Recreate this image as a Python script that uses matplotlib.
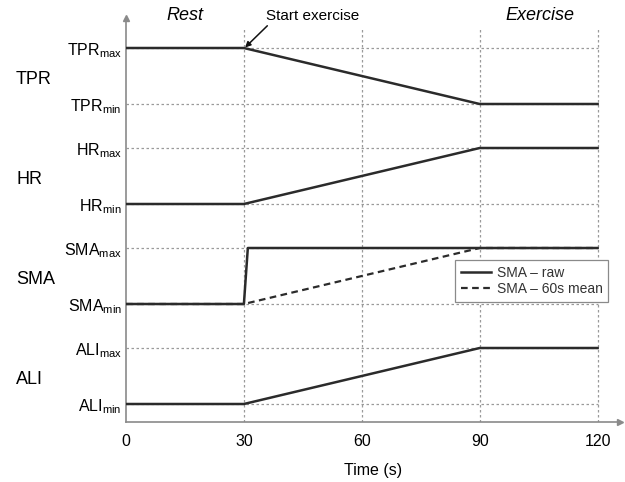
import numpy as np
import matplotlib.pyplot as plt

plt.rcParams['font.family'] = ['Liberation Sans', 'DejaVu Sans']
plt.rcParams['mathtext.fontset'] = 'custom'
plt.rcParams['mathtext.rm'] = 'Liberation Sans'

# levels of each variable (arbitrary units, one band per variable)
variables = ['TPR', 'HR', 'SMA', 'ALI']
level_min = [318, 218, 118, 18]
level_max = [374, 274, 174, 74]

# time courses (s)
t_tpr = [0, 30, 90, 120]
tpr = [374, 374, 318, 318]
t_hr = [0, 30, 90, 120]
hr = [218, 218, 274, 274]
t_sma_raw = [0, 30, 31, 120]
sma_raw = [118, 118, 174, 174]
t_sma_mean = [0, 30, 90, 120]
sma_mean = [118, 118, 174, 174]
t_ali = [0, 30, 90, 120]
ali = [18, 18, 74, 74]

xticks = [0, 30, 60, 90, 120]

fig = plt.figure(figsize=(6.25, 4.82), dpi=100)
ax = fig.add_axes([126/625, 60/482, 494/625, 404/482])
ax.set_xlim(0, 125.7)
ax.set_ylim(0, 404)

grid_c = '#9a9a9a'
# dotted grid
ax.hlines(level_min + level_max, 0, 120, colors=grid_c, linestyles=(0, (2, 2)), lw=0.9, zorder=1)
ax.vlines([30, 60, 90, 120], 0, 394, colors=grid_c, linestyles=(0, (2, 2)), lw=0.9, zorder=1)

line_c = '#2b2b2b'
ax.plot(t_tpr, tpr, color=line_c, lw=1.8, zorder=3)
ax.plot(t_hr, hr, color=line_c, lw=1.8, zorder=3)
ax.plot(t_sma_raw, sma_raw, color=line_c, lw=1.8, zorder=3, label='SMA – raw')
ax.plot(t_sma_mean, sma_mean, color=line_c, lw=1.6, ls=(0, (3, 2)), zorder=4, label='SMA – 60s mean')
ax.plot(t_ali, ali, color=line_c, lw=1.8, zorder=3)

# spines with arrow heads
for s in ['top', 'right']:
    ax.spines[s].set_visible(False)
for s in ['left', 'bottom']:
    ax.spines[s].set_color('#8a8a8a')
    ax.spines[s].set_linewidth(1.2)
ax.plot(1, 0, '>', color='#8a8a8a', ms=5, transform=ax.transAxes, clip_on=False)
ax.plot(0, 1, '^', color='#8a8a8a', ms=5, transform=ax.transAxes, clip_on=False)

# ticks
ax.set_xticks(xticks)
ax.set_xticklabels([str(x) for x in xticks], fontsize=11.5)
yt, yl = [], []
for v, lo, hi in zip(variables, level_min, level_max):
    yt += [hi, lo]
    yl += [v + r'$_{\mathrm{max}}$', v + r'$_{\mathrm{min}}$']
ax.set_yticks(yt)
ax.set_yticklabels(yl, fontsize=11.5)
ax.tick_params(length=0, pad=3)
ax.tick_params(axis='x', pad=9)
ax.set_xlabel('Time (s)', fontsize=11.5, labelpad=10)

# group labels
for v, lo, hi in zip(variables, level_min, level_max):
    fig.text(16/625, 1 - (422 - (lo + hi) / 2 + 4) / 482, v, fontsize=13,
             ha='left', va='center')

# phase labels
fig.text(185/625, 1 - 16/482, 'Rest', fontsize=13, style='italic', ha='center', va='center')
fig.text(540/625, 1 - 16/482, 'Exercise', fontsize=13, style='italic', ha='center', va='center')
ax.annotate('Start exercise', xy=(30.3, 374.5), xytext=(35.5, 406),
            fontsize=11, ha='left', va='center', annotation_clip=False,
            arrowprops=dict(arrowstyle='-|>', color='#111111', lw=1.1,
                            mutation_scale=8, shrinkA=0, shrinkB=0,
                            relpos=(0.05, 0.0)))

leg = ax.legend(loc='upper left', bbox_to_anchor=((455 - 126) / 494, (422 - 260) / 404),
                fontsize=10, frameon=True, fancybox=False, framealpha=1,
                edgecolor='#8a8a8a', borderpad=0.4, handlelength=2.2,
                handletextpad=0.4, labelspacing=0.2, borderaxespad=0)
leg.get_frame().set_linewidth(0.9)
for txt in leg.get_texts():
    txt.set_color('#333333')

fig.savefig('out.png', dpi=100)
